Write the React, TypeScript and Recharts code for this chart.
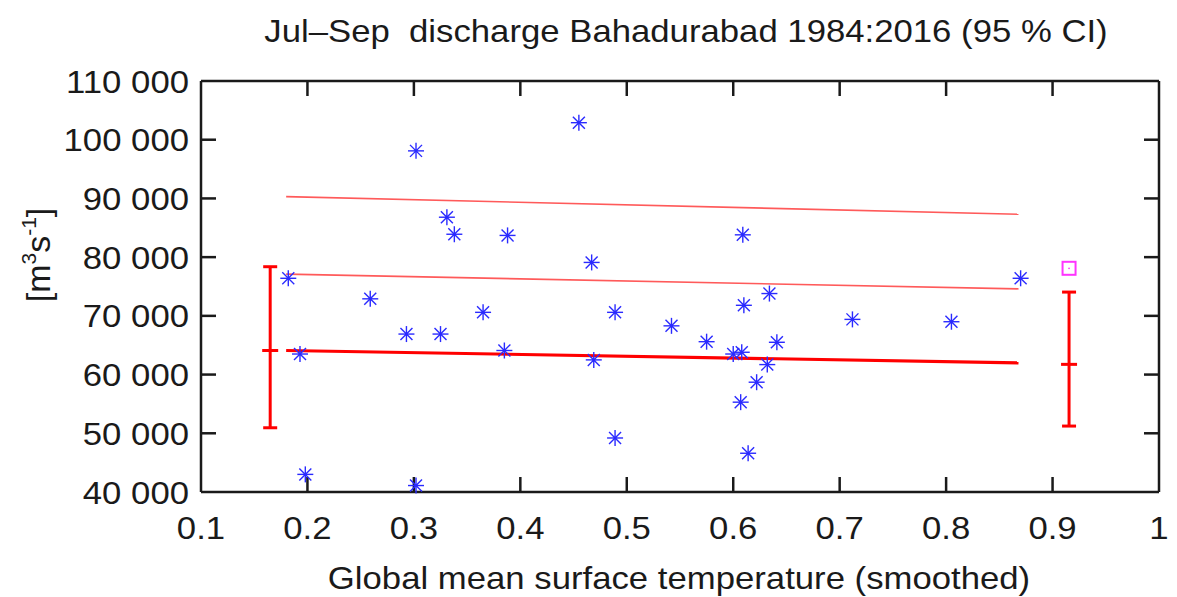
import React from 'react';
import { ScatterChart, Scatter, XAxis, YAxis, ErrorBar, ReferenceLine } from 'recharts';

// ---- data ----
const gmst = [
  0.182, 0.193, 0.198, 0.259, 0.293, 0.302, 0.302, 0.325, 0.331, 0.338, 0.365,
  0.385, 0.388, 0.455, 0.467, 0.469, 0.489, 0.489, 0.542, 0.575, 0.6, 0.607,
  0.608, 0.609, 0.61, 0.614, 0.622, 0.632, 0.634, 0.641, 0.712, 0.805, 0.87,
];
const discharge = [
  76400, 63500, 43000, 72900, 66900, 98100, 41100, 66900, 86800, 83900, 70600,
  64100, 83700, 102900, 79100, 62500, 70600, 49200, 68300, 65600, 63500, 55300,
  63800, 83800, 71800, 46600, 58700, 61700, 73800, 65500, 69400, 69000, 76400,
];
const trendX = [0.18, 0.868];
const trendFit = [64100, 62000];
const trendUpper = [90300, 87300];
const trendLower = [77100, 74600];
const ciX = [0.165, 0.9155];
const ciMid = [64100, 61740];
const ciLow = [50940, 51230];
const ciHigh = [78370, 74050];
const futureX = [0.9155];
const futureY = [78100];
const xTicks = [0.1, 0.2, 0.3, 0.4, 0.5, 0.6, 0.7, 0.8, 0.9, 1];
const yTicks = [40000, 50000, 60000, 70000, 80000, 90000, 100000, 110000];
const xDomain = [0.1, 1];
const yDomain = [40000, 110000];

const obs = gmst.map((x, i) => ({ x, y: discharge[i] }));
const mk = (ys: number[]) => trendX.map((x, i) => ({ x, y: ys[i] }));
const ciData = ciX.map((x, i) => ({ x, y: ciMid[i], err: [ciMid[i] - ciLow[i], ciHigh[i] - ciMid[i]] }));
const futData = futureX.map((x, i) => ({ x, y: futureY[i] }));

// ---- layout ----
const W = 1169, H = 589;
const M = { top: 73, right: 18, bottom: 105, left: 193 };
const PL = M.left;
const PR = W - M.right;
const PT = M.top;
const PB = H - M.bottom;
const FONT = '"Liberation Sans", Arial, sans-serif';
const AX = '#1a1a1a';
const TICK = 15;
const SX = 1.12;
// inward tick length expressed in axis units so Recharts' scales place them
const TICK_DX = (TICK / (PR - PL)) * (xDomain[1] - xDomain[0]);
const TICK_DY = (TICK / (PB - PT)) * (yDomain[1] - yDomain[0]);

const fmtY = (v: number) => String(Math.round(v)).replace(/\B(?=(\d{3})+(?!\d))/g, ' ');
const fmtX = (v: number) => (Math.abs(v - 1) < 1e-9 ? '1' : v.toFixed(1));

const XTick = (props: any) => {
  const { x, payload } = props;
  return (
    <text transform={`translate(${x},531) scale(${SX},1)`} x={0} y={0} textAnchor="middle" fontFamily={FONT} fontSize={31} fill={AX}>
      {fmtX(payload.value)}
    </text>
  );
};

const YTick = (props: any) => {
  const { y, payload } = props;
  return (
    <text transform={`translate(${PL - 12},${y + 11.5}) scale(${SX},1)`} x={0} y={0} textAnchor="end" fontFamily={FONT} fontSize={31} fill={AX}>
      {fmtY(payload.value)}
    </text>
  );
};

const Asterisk = (props: any) => {
  const { cx, cy } = props;
  if (cx == null || cy == null) return <g />;
  const r = 8, d = 6;
  const c = '#2a2aff';
  return (
    <g stroke={c} strokeWidth={1.4}>
      <line x1={cx - r} x2={cx + r} y1={cy} y2={cy} />
      <line x1={cx} x2={cx} y1={cy - r} y2={cy + r} />
      <line x1={cx - d} x2={cx + d} y1={cy - d} y2={cy + d} />
      <line x1={cx - d} x2={cx + d} y1={cy + d} y2={cy - d} />
      <circle cx={cx} cy={cy} r={1.6} fill={c} stroke="none" />
    </g>
  );
};

const Dash = (props: any) => {
  const { cx, cy } = props;
  if (cx == null || cy == null) return <g />;
  return <line x1={cx - 8} x2={cx + 8} y1={cy} y2={cy} stroke="#ff0000" strokeWidth={3} />;
};

const Square = (props: any) => {
  const { cx, cy } = props;
  if (cx == null || cy == null) return <g />;
  return (
    <g>
      <rect x={cx - 6.5} y={cy - 6.5} width={13} height={13} fill="none" stroke="#ff33ff" strokeWidth={2} />
      <circle cx={cx} cy={cy} r={0.9} fill="#ff33ff" />
    </g>
  );
};

const Nothing = () => <g />;

const axisLine = { stroke: AX, strokeWidth: 2.5 };

export default function App() {
  const innerX = xTicks.filter((v) => v > xDomain[0] + 1e-6 && v < xDomain[1] - 1e-6);
  const innerY = yTicks.filter((v) => v > yDomain[0] + 1e-6 && v < yDomain[1] - 1e-6);
  return (
    <div style={{ position: 'relative', width: W, height: H }}>
      <ScatterChart width={W} height={H} margin={M}>
        <XAxis xAxisId="b" orientation="bottom" mirror type="number" dataKey="x" domain={xDomain} ticks={xTicks}
          axisLine={axisLine} tickLine={false} tick={XTick} interval={0} />
        <XAxis xAxisId="t" orientation="top" mirror type="number" dataKey="x" domain={xDomain} ticks={xTicks}
          axisLine={axisLine} tickLine={false} tick={false} />
        <YAxis yAxisId="l" orientation="left" mirror type="number" dataKey="y" domain={yDomain} ticks={yTicks}
          axisLine={axisLine} tickLine={false} tick={YTick} interval={0} />
        <YAxis yAxisId="r" orientation="right" mirror type="number" dataKey="y" domain={yDomain} ticks={yTicks}
          axisLine={axisLine} tickLine={false} tick={false} />
        {innerX.map((v) => (
          <ReferenceLine key={`xb${v}`} xAxisId="b" yAxisId="l" ifOverflow="visible" stroke={AX} strokeWidth={2.5}
            segment={[{ x: v, y: yDomain[0] }, { x: v, y: yDomain[0] + TICK_DY }]} />
        ))}
        {innerX.map((v) => (
          <ReferenceLine key={`xt${v}`} xAxisId="b" yAxisId="l" ifOverflow="visible" stroke={AX} strokeWidth={2.5}
            segment={[{ x: v, y: yDomain[1] }, { x: v, y: yDomain[1] - TICK_DY }]} />
        ))}
        {innerY.map((v) => (
          <ReferenceLine key={`yl${v}`} xAxisId="b" yAxisId="l" ifOverflow="visible" stroke={AX} strokeWidth={2.5}
            segment={[{ x: xDomain[0], y: v }, { x: xDomain[0] + TICK_DX, y: v }]} />
        ))}
        {innerY.map((v) => (
          <ReferenceLine key={`yr${v}`} xAxisId="b" yAxisId="l" ifOverflow="visible" stroke={AX} strokeWidth={2.5}
            segment={[{ x: xDomain[1], y: v }, { x: xDomain[1] - TICK_DX, y: v }]} />
        ))}
        <Scatter xAxisId="b" yAxisId="l" data={mk(trendUpper)} line={{ stroke: '#ff5a5a', strokeWidth: 1.6 }} shape={Nothing} isAnimationActive={false} />
        <Scatter xAxisId="b" yAxisId="l" data={mk(trendLower)} line={{ stroke: '#ff5a5a', strokeWidth: 1.6 }} shape={Nothing} isAnimationActive={false} />
        <Scatter xAxisId="b" yAxisId="l" data={mk(trendFit)} line={{ stroke: '#ff0000', strokeWidth: 3.2 }} shape={Nothing} isAnimationActive={false} />
        <Scatter xAxisId="b" yAxisId="l" data={ciData} shape={Dash} isAnimationActive={false}>
          <ErrorBar dataKey="err" direction="y" width={7} stroke="#ff0000" strokeWidth={3} isAnimationActive={false} />
        </Scatter>
        <Scatter xAxisId="b" yAxisId="l" data={futData} shape={Square} isAnimationActive={false} />
        <Scatter xAxisId="b" yAxisId="l" data={obs} shape={Asterisk} isAnimationActive={false} />
      </ScatterChart>
      <svg width={W} height={H} style={{ position: 'absolute', left: 0, top: 0, pointerEvents: 'none' }}>
        <text
          transform={`translate(678,34) scale(${SX},1)`}
          x={0}
          y={0}
          textAnchor="middle"
          fontFamily={FONT}
          fontSize={31}
          fill={AX}
          style={{ whiteSpace: 'pre' }}
        >
          {'Jul\u2013Sep  discharge Bahadurabad 1984:2016 (95 % CI)'}
        </text>
        <text transform={`translate(671,581) scale(${SX},1)`} x={0} y={0} textAnchor="middle" fontFamily={FONT} fontSize={31} fill={AX}>
          Global mean surface temperature (smoothed)
        </text>
        <text transform="translate(42,247) rotate(-90)" x={0} y={0} textAnchor="middle" fontFamily={FONT} fontSize={34} fill={AX}>
          [m<tspan fontSize={21} dy={-14}>3</tspan>
          <tspan dy={14}>s</tspan>
          <tspan fontSize={21} dy={-14}>-1</tspan>
          <tspan dy={14}>]</tspan>
        </text>
      </svg>
    </div>
  );
}
